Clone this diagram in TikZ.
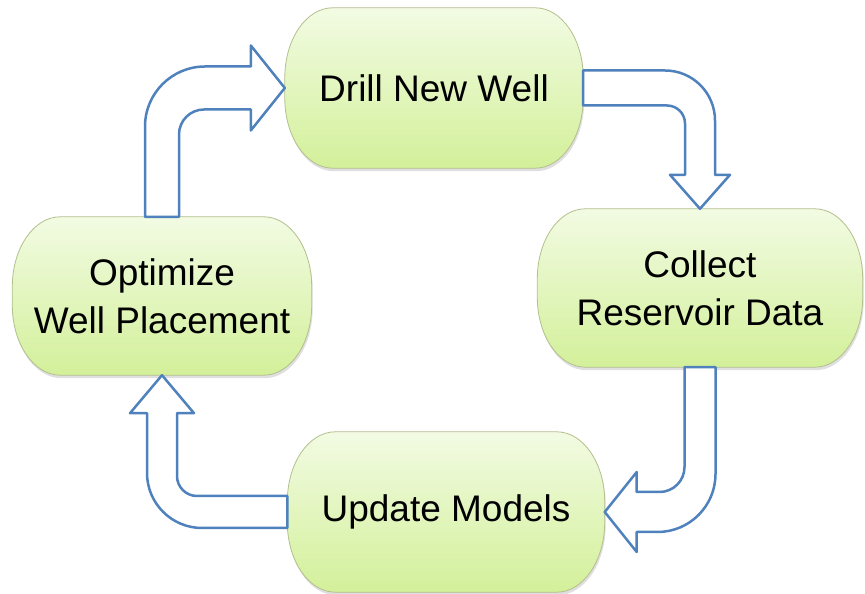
\documentclass[tikz,border=0pt]{standalone}
\usepackage{fontspec}
\setmainfont{Liberation Sans}
\usetikzlibrary{calc,backgrounds,shadows}
\definecolor{arrowblue}{HTML}{4F81BD}
\definecolor{pilltop}{HTML}{F2FBE3}
\definecolor{pillbottom}{HTML}{D3F09A}
\definecolor{pillrim}{HTML}{B3BF8C}
\begin{document}
\begin{tikzpicture}[x=1pt, y=1pt,
  pill/.style={minimum height=158pt, inner sep=0pt, align=center,
    font=\fontsize{37pt}{48pt}\selectfont},
  pillfill/.style={draw=pillrim, line width=0.8pt, top color=pilltop, bottom color=pillbottom,
    drop shadow={opacity=0.25, shadow xshift=1pt, shadow yshift=-3pt}},
  blockarrow/.style={draw=arrowblue, line width=2.5pt, fill=white, line join=round}]
\useasboundingbox (0,0) rectangle (865,594);
\node[pill, minimum width=298pt, minimum height=160pt] (drill) at (434,506) {Drill New Well};
\node[pill, minimum width=325pt] (collect) at (700,306) {Collect\\Reservoir Data};
\node[pill, minimum width=317pt, minimum height=160pt] (update) at (446,82) {Update Models};
\node[pill, minimum width=299pt] (optimize) at (162,298) {Optimize\\Well Placement};
\begin{scope}[on background layer]
\foreach \n in {drill,collect,update,optimize}
  \path[pillfill] ($(\n.north west)+(48,0)$) -- ($(\n.north east)+(-48,0)$)
    arc[start angle=90, end angle=0, x radius=48pt, y radius=70pt]
    -- ($(\n.south east)+(0,70)$)
    arc[start angle=0, end angle=-90, x radius=48pt, y radius=70pt]
    -- ($(\n.south west)+(48,0)$)
    arc[start angle=270, end angle=180, x radius=48pt, y radius=70pt]
    -- ($(\n.north west)+(0,-70)$)
    arc[start angle=180, end angle=90, x radius=48pt, y radius=70pt] -- cycle;
\end{scope}
% optimize -> drill
\draw[blockarrow] ($(optimize.north)+(-17,0)$) -- ($(optimize.north |- drill.west)+(-17,-38.5)$)
  arc[start angle=180, end angle=90, radius=60pt] -- ($(drill.west)+(-34,21.5)$)
  -- ++(0,21) -- (drill.west) -- ++(-34,-42.5) -- ++(0,21)
  -- ($(optimize.north |- drill.west)+(42,-21.5)$)
  arc[start angle=90, end angle=180, radius=25pt] -- ($(optimize.north)+(17,0)$) -- cycle;
% drill -> collect
\draw[blockarrow] ($(drill.east)+(0,17.5)$) -- ($(collect.north |- drill.east)+(-35,17.5)$)
  arc[start angle=90, end angle=0, radius=50pt] -- ($(collect.north)+(15,34)$)
  -- ++(15,0) -- (collect.north) -- ++(-30,34) -- ++(15,0)
  -- ($(collect.north |- drill.east)+(-15,-35.5)$)
  arc[start angle=0, end angle=90, radius=18pt] -- ($(drill.east)+(0,-17.5)$) -- cycle;
% collect -> update
\draw[blockarrow] ($(collect.south)+(15.5,0)$) -- ($(collect.south |- update.east)+(15.5,38)$)
  arc[start angle=0, end angle=-90, radius=58pt] -- ($(update.east)+(32,-20)$)
  -- ++(0,-20) -- (update.east) -- ++(32,40) -- ++(0,-20)
  -- ($(collect.south |- update.east)+(-40.5,20)$)
  arc[start angle=-90, end angle=0, radius=25pt] -- ($(collect.south)+(-15.5,0)$) -- cycle;
% update -> optimize
\draw[blockarrow] ($(update.west)+(0,-16)$) -- ($(optimize.south |- update.west)+(40,-16)$)
  arc[start angle=-90, end angle=-180, radius=55pt] -- ($(optimize.south)+(-15,-38)$)
  -- ++(-17,0) -- (optimize.south) -- ++(32,-38) -- ++(-17,0)
  -- ($(optimize.south |- update.west)+(15,36)$)
  arc[start angle=180, end angle=270, radius=20pt] -- ($(update.west)+(0,16)$) -- cycle;
\end{tikzpicture}
\end{document}
